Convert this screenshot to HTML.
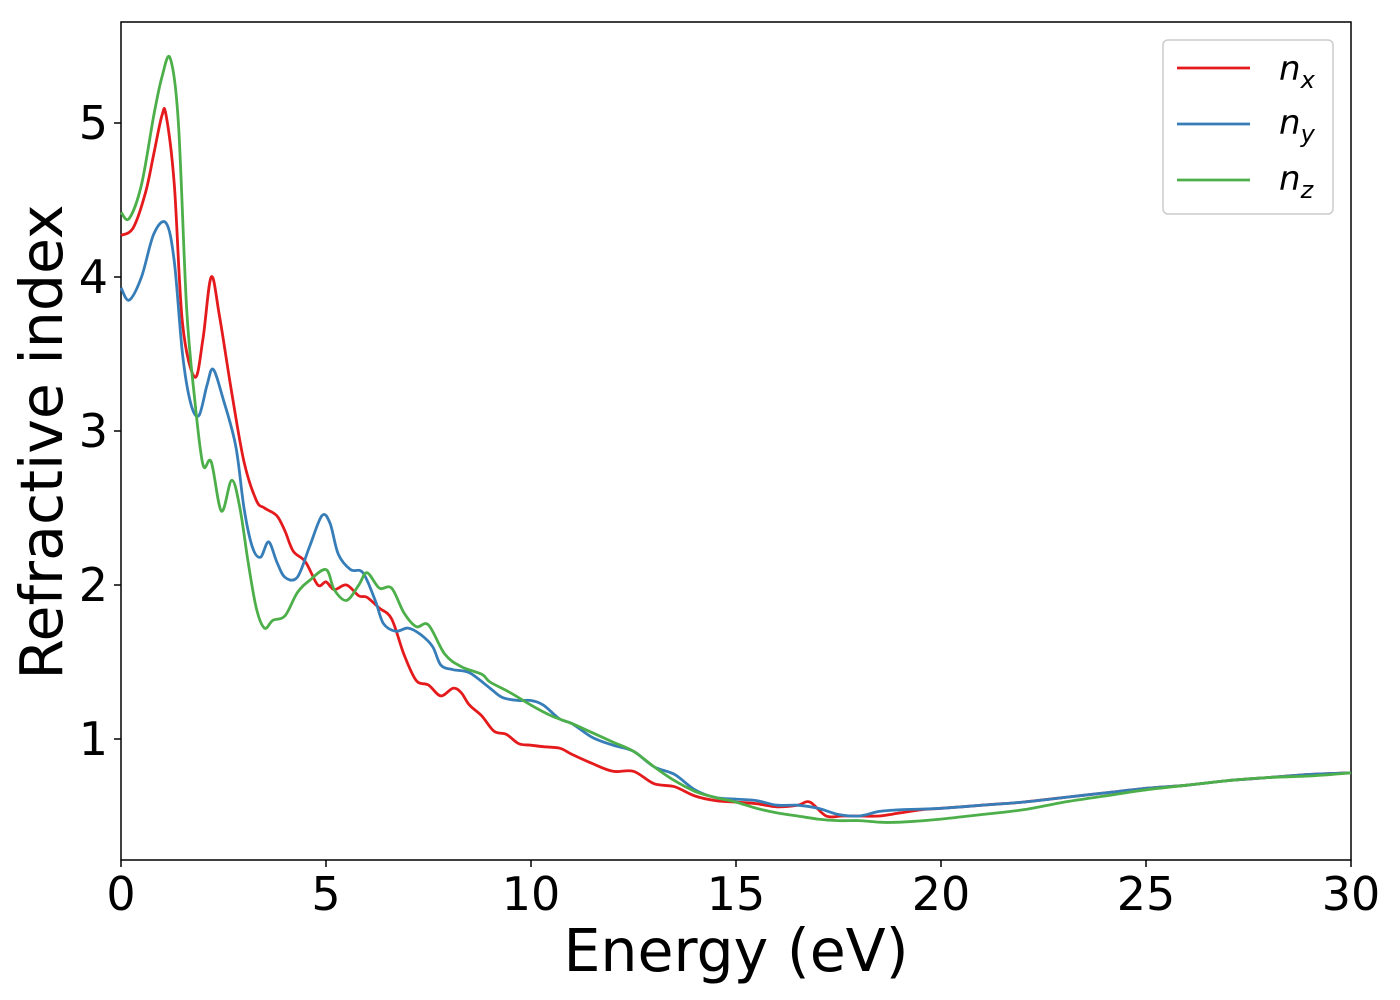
<!DOCTYPE html>
<html><head><meta charset="utf-8"><style>
body{margin:0;background:#fff;}
svg{display:block;font-family:"DejaVu Sans","Liberation Sans",sans-serif;}
</style></head><body>
<svg id="chart" width="1400" height="1000">
<rect x="121" y="22" width="1230" height="838" fill="#fff" stroke="#000" stroke-width="1.5"/>
<g id="series"></g>
<g id="axes"></g>
<text x="736" y="971" font-size="58.5" text-anchor="middle">Energy (eV)</text>
<text transform="translate(62,442) rotate(-90)" font-size="58.5" text-anchor="middle">Refractive index</text>
<g>
<rect x="1163" y="40" width="170" height="174" rx="5" fill="#fff" stroke="#ccc" stroke-width="1.5"/>
<line x1="1177" y1="68" x2="1250" y2="68" stroke="#e41a1c" stroke-width="2.8"/>
<text x="1279" y="80" font-size="34" font-style="italic">n<tspan font-size="24" dy="8">x</tspan></text>
<line x1="1177" y1="124" x2="1250" y2="124" stroke="#377eb8" stroke-width="2.8"/>
<text x="1279" y="134" font-size="34" font-style="italic">n<tspan font-size="24" dy="8">y</tspan></text>
<line x1="1177" y1="180" x2="1250" y2="180" stroke="#4daf4a" stroke-width="2.8"/>
<text x="1279" y="190" font-size="34" font-style="italic">n<tspan font-size="24" dy="8">z</tspan></text>
</g>
</svg>
<script>
const xTicks=[0,5,10,15,20,25,30];
const yTicks=[1,2,3,4,5];
const nxE=[0,0.3,0.6,0.8,1.0,1.1,1.3,1.5,1.8,2.0,2.2,2.4,2.7,3.0,3.3,3.5,3.8,4.0,4.2,4.5,4.8,5.0,5.2,5.5,5.8,6.0,6.3,6.6,6.9,7.2,7.5,7.8,8.1,8.3,8.5,8.8,9.1,9.4,9.7,10,10.3,10.7,11,11.5,12,12.5,13,13.5,14,14.5,15,15.5,16,16.5,16.8,17.2,17.6,18,18.5,19,19.5,20,20.5,21,21.5,22,23,24,25,26,27,28,29,30];
const nxV=[4.27,4.32,4.55,4.8,5.05,5.05,4.6,3.7,3.35,3.6,4.0,3.75,3.25,2.8,2.55,2.5,2.45,2.35,2.22,2.15,2.0,2.02,1.97,2.0,1.93,1.92,1.85,1.78,1.55,1.38,1.35,1.28,1.33,1.3,1.22,1.15,1.05,1.03,0.97,0.96,0.95,0.94,0.9,0.84,0.79,0.79,0.71,0.69,0.63,0.6,0.59,0.58,0.56,0.57,0.59,0.5,0.5,0.5,0.5,0.52,0.54,0.55,0.56,0.57,0.58,0.59,0.62,0.65,0.68,0.7,0.73,0.75,0.77,0.78];
const nyE=[0,0.2,0.5,0.8,1.1,1.3,1.5,1.7,1.9,2.1,2.25,2.5,2.8,3.0,3.2,3.4,3.6,3.8,4.0,4.3,4.6,4.9,5.1,5.3,5.6,5.9,6.2,6.4,6.7,7.0,7.3,7.6,7.8,8.1,8.5,9.0,9.3,9.7,10,10.3,10.7,11,11.5,12,12.5,13,13.5,14,14.5,15,15.5,16,16.5,17,17.5,18,18.5,19,20,21,22,23,24,25,26,27,28,29,30];
const nyV=[3.93,3.85,4.0,4.28,4.35,4.1,3.5,3.18,3.1,3.3,3.4,3.2,2.9,2.5,2.25,2.18,2.28,2.15,2.05,2.05,2.25,2.45,2.4,2.2,2.1,2.08,1.9,1.75,1.7,1.72,1.68,1.6,1.48,1.45,1.43,1.33,1.27,1.25,1.25,1.22,1.13,1.1,1.01,0.96,0.92,0.82,0.77,0.67,0.62,0.61,0.6,0.57,0.57,0.55,0.51,0.5,0.53,0.54,0.55,0.57,0.59,0.62,0.65,0.68,0.7,0.73,0.75,0.77,0.78];
const nzE=[0,0.2,0.5,0.8,1.0,1.2,1.4,1.6,1.8,2.0,2.2,2.45,2.7,2.9,3.1,3.3,3.5,3.7,4.0,4.3,4.6,5.0,5.2,5.5,5.8,6.0,6.3,6.6,6.9,7.2,7.5,7.9,8.3,8.8,9.0,9.5,10,10.5,11,11.5,12,12.5,13,13.5,14,14.5,15,15.5,16,16.5,17,17.5,18,18.5,19,20,21,22,23,24,25,26,27,28,29,30];
const nzV=[4.42,4.38,4.6,5.05,5.3,5.42,5.0,3.8,3.2,2.78,2.8,2.48,2.68,2.5,2.15,1.85,1.72,1.77,1.8,1.95,2.03,2.1,1.97,1.9,2.0,2.08,1.98,1.98,1.82,1.73,1.74,1.55,1.47,1.42,1.37,1.3,1.22,1.15,1.1,1.04,0.98,0.92,0.82,0.73,0.66,0.62,0.59,0.55,0.52,0.5,0.48,0.47,0.47,0.46,0.46,0.48,0.51,0.54,0.59,0.63,0.67,0.7,0.73,0.75,0.76,0.78];

const NS='http://www.w3.org/2000/svg';
const xs=v=>121+v*41;
const ys=v=>893-v*154;
function smoothPath(E,V){
  const p=E.map((e,i)=>[xs(e),ys(V[i])]);
  let d='M'+p[0][0].toFixed(1)+','+p[0][1].toFixed(1);
  for(let i=0;i<p.length-1;i++){
    const p0=p[Math.max(0,i-1)],p1=p[i],p2=p[i+1],p3=p[Math.min(p.length-1,i+2)];
    const c1=[p1[0]+(p2[0]-p0[0])/6,p1[1]+(p2[1]-p0[1])/6];
    const c2=[p2[0]-(p3[0]-p1[0])/6,p2[1]-(p3[1]-p1[1])/6];
    d+=' C'+c1[0].toFixed(1)+','+c1[1].toFixed(1)+' '+c2[0].toFixed(1)+','+c2[1].toFixed(1)+' '+p2[0].toFixed(1)+','+p2[1].toFixed(1);
  }
  return d;
}
const sg=document.getElementById('series');
[[nxE,nxV,'#e41a1c','line-nx'],[nyE,nyV,'#377eb8','line-ny'],[nzE,nzV,'#4daf4a','line-nz']].forEach(s=>{
  const path=document.createElementNS(NS,'path');
  path.setAttribute('d',smoothPath(s[0],s[1]));
  path.setAttribute('fill','none');
  path.setAttribute('stroke',s[2]);
  path.setAttribute('stroke-width','2.8');
  
  
  sg.appendChild(path);
});
const ag=document.getElementById('axes');
xTicks.forEach(t=>{
  const l=document.createElementNS(NS,'line');
  l.setAttribute('x1',xs(t));l.setAttribute('x2',xs(t));l.setAttribute('y1',860);l.setAttribute('y2',867);
  l.setAttribute('stroke','#000');l.setAttribute('stroke-width','1.5');
  
  
  ag.appendChild(l);
  const tx=document.createElementNS(NS,'text');
  tx.setAttribute('x',xs(t));tx.setAttribute('y',910);tx.setAttribute('font-size','46');tx.setAttribute('text-anchor','middle');
  tx.textContent=t;
  
  
  ag.appendChild(tx);
});
yTicks.forEach(t=>{
  const l=document.createElementNS(NS,'line');
  l.setAttribute('x1',114);l.setAttribute('x2',121);l.setAttribute('y1',ys(t));l.setAttribute('y2',ys(t));
  l.setAttribute('stroke','#000');l.setAttribute('stroke-width','1.5');
  
  
  ag.appendChild(l);
  const tx=document.createElementNS(NS,'text');
  tx.setAttribute('x',108);tx.setAttribute('y',ys(t)+16);tx.setAttribute('font-size','46');tx.setAttribute('text-anchor','end');
  tx.textContent=t;
  
  
  ag.appendChild(tx);
});
</script>
</body></html>
